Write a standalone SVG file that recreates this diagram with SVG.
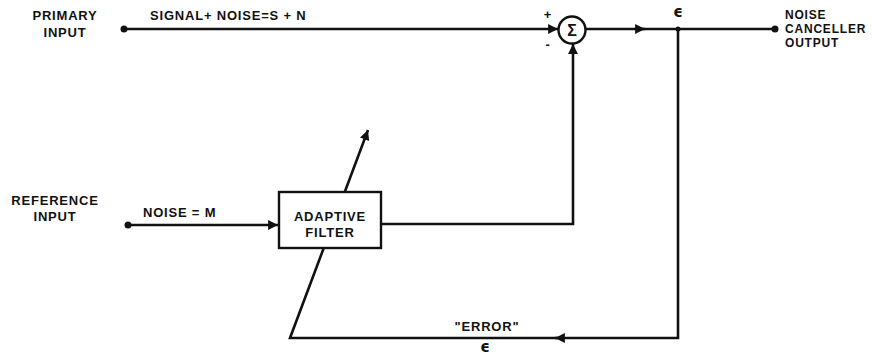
<svg xmlns="http://www.w3.org/2000/svg" width="872" height="359" viewBox="0 0 872 359">
<style>
.t{font-family:"Liberation Sans",Arial,sans-serif;font-weight:bold;font-size:13px;fill:#111;letter-spacing:0.8px}
.s{font-size:12px}
.e{font-family:"DejaVu Sans",sans-serif;font-weight:bold;font-size:15px;fill:#111}
.ln{stroke:#111;stroke-width:2.6;fill:none}
.dot{fill:#111}
</style>
<defs>
<marker id="ah" viewBox="0 0 10 10" refX="10" refY="5" markerWidth="4.4" markerHeight="3.8" markerUnits="strokeWidth" orient="auto">
<path d="M0,0 L10,5 L0,10 z" fill="#111"/>
</marker>
</defs>
<rect width="872" height="359" fill="#fff"/>
<g id="connectors">
<path class="ln" d="M124,29 H558" marker-end="url(#ah)"/>
<path class="ln" d="M585,29 H645" marker-end="url(#ah)"/>
<path class="ln" d="M640,29 H775"/>
<path class="ln" d="M128,225 H278" marker-end="url(#ah)"/>
<path class="ln" d="M381,224 H573 V44" marker-end="url(#ah)"/>
<path class="ln" d="M678,29 V338 H555" marker-end="url(#ah)"/>
<path class="ln" d="M560,338 H290 L368,130" marker-end="url(#ah)"/>
<circle class="dot" cx="124" cy="29" r="3.5"/>
<circle class="dot" cx="775" cy="29" r="3.5"/>
<circle class="dot" cx="128" cy="225" r="3.5"/>
<circle class="dot" cx="678" cy="29" r="2.5"/>
</g>
<g id="primary-input">
<text class="t" x="65" y="20" text-anchor="middle">PRIMARY</text>
<text class="t" x="65" y="37" text-anchor="middle">INPUT</text>
<text class="t" x="150" y="20">SIGNAL+ NOISE=S + N</text>
</g>
<g id="sum">
<circle cx="572" cy="30" r="13.5" fill="#fff" stroke="#111" stroke-width="2.4"/>
<text class="t" x="572" y="36" text-anchor="middle" style="letter-spacing:0;font-size:16px">Σ</text>
<text class="t" x="548" y="19" text-anchor="middle">+</text>
<text class="t" x="548" y="49" text-anchor="middle">-</text>
</g>
<g id="output">
<text class="e" x="678" y="17" text-anchor="middle">ϵ</text>
<text class="t s" x="785" y="19">NOISE</text>
<text class="t s" x="785" y="33">CANCELLER</text>
<text class="t s" x="785" y="47">OUTPUT</text>
</g>
<g id="reference-input">
<text class="t" x="55" y="205" text-anchor="middle">REFERENCE</text>
<text class="t" x="55" y="221" text-anchor="middle">INPUT</text>
<text class="t" x="143" y="217">NOISE = M</text>
</g>
<g id="adaptive-filter">
<rect x="279" y="192" width="102" height="56" fill="#fff" stroke="#111" stroke-width="2.4"/>
<text class="t" x="330" y="221" text-anchor="middle">ADAPTIVE</text>
<text class="t" x="330" y="237" text-anchor="middle">FILTER</text>
</g>
<g id="error">
<text class="t" x="487" y="331" text-anchor="middle">"ERROR"</text>
<text class="e" x="485" y="352" text-anchor="middle">ϵ</text>
</g>
</svg>
